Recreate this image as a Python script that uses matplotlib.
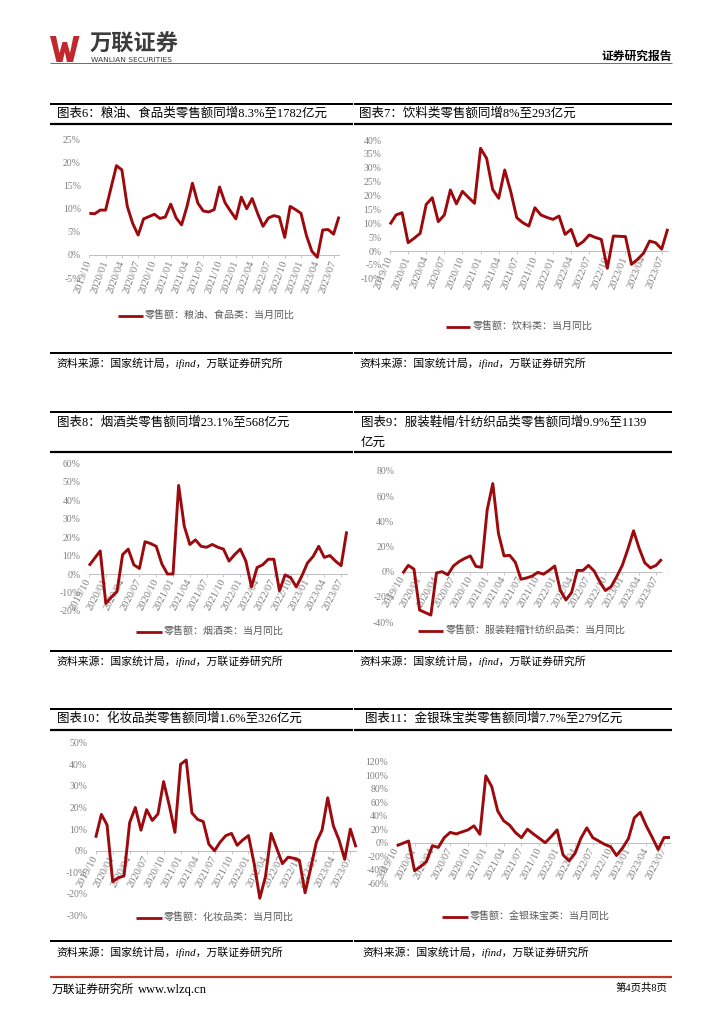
import numpy as np
import matplotlib
matplotlib.use("Agg")
import matplotlib.pyplot as plt
from matplotlib.lines import Line2D
from matplotlib.patches import Polygon

# ---------------- data ----------------
x_tick_labels = ["2019/10", "2020/01", "2020/04", "2020/07", "2020/10", "2021/01",
                 "2021/04", "2021/07", "2021/10", "2022/01", "2022/04", "2022/07",
                 "2022/10", "2023/01", "2023/04", "2023/07"]

grain_food = [9.0, 8.9, 9.7, 9.7, 14.5, 19.3, 18.4, 10.5, 6.8, 4.3, 7.8, 8.3, 8.8, 7.9, 8.2,
              11.0, 8.0, 6.5, 10.5, 15.5, 11.2, 9.5, 9.3, 9.8, 14.7, 11.3, 9.5, 7.8, 12.5,
              10.0, 12.2, 9.0, 6.2, 8.0, 8.5, 8.2, 3.8, 10.5, 9.8, 9.0, 4.2, 0.8, -0.5, 5.4,
              5.5, 4.5, 8.3]

beverage = [9.6, 13.0, 13.8, 3.0, 4.6, 6.4, 16.8, 19.2, 10.6, 13.0, 22.0, 17.0, 21.5, 19.3,
            17.2, 37.0, 33.4, 22.2, 19.0, 29.2, 21.4, 12.0, 10.2, 9.0, 15.6, 13.0, 12.1, 11.4,
            12.6, 6.0, 7.8, 1.9, 3.4, 5.8, 4.9, 4.2, -6.2, 5.4, 5.3, 5.2, -4.8, -3.0, -0.8,
            3.6, 3.0, 0.7, 8.0]

tobacco_liquor = [4.5, 8.5, 12.5, -16.0, -12.5, -9.5, 10.5, 13.5, 5.0, 3.0, 17.5, 16.5, 15.0,
                  5.5, 0.0, 0.0, 48.0, 26.0, 16.0, 18.5, 15.0, 14.5, 16.0, 14.5, 13.5, 7.0,
                  10.5, 13.5, 7.0, -7.0, 3.5, 5.0, 8.0, 8.0, -9.0, -0.5, -2.0, -7.0, -1.0,
                  6.0, 9.5, 15.0, 9.0, 10.0, 7.0, 4.5, 23.1]

apparel = [-1.3, 5.0, 2.0, -30.5, -32.5, -34.5, -1.0, 0.0, -2.5, 4.5, 8.0, 10.5, 12.5, 4.2,
           3.5, 49.0, 70.0, 30.5, 12.5, 13.0, 7.5, -6.0, -5.0, -3.5, -0.5, -2.0, 1.0, 4.5,
           -15.0, -22.5, -16.5, 1.0, 1.0, 5.0, 0.5, -8.0, -15.0, -12.0, -4.0, 5.0, 18.0,
           32.5, 18.5, 7.0, 3.0, 5.0, 9.9]

cosmetics = [6.0, 16.8, 12.0, -14.3, -12.5, -11.7, 13.0, 20.0, 9.5, 19.0, 14.0, 17.0, 32.0,
             21.0, 8.5, 40.0, 42.0, 17.5, 14.5, 13.5, 3.0, 0.0, 4.0, 7.0, 8.0, 2.5, 5.0, 7.0,
             -6.0, -22.0, -12.0, 8.0, 1.0, -6.0, -3.0, -3.5, -4.5, -19.5, -8.0, 4.0, 9.5,
             24.5, 11.5, 5.0, -4.0, 10.0, 1.6]

jewelry = [-4.5, -1.0, 2.5, -41.5, -35.5, -28.0, -4.5, -7.0, 7.5, 15.3, 13.0, 16.0, 19.0,
           25.0, 12.5, 99.0, 83.0, 47.0, 32.5, 26.0, 15.0, 7.5, 20.0, 13.0, 6.5, 0.0, 9.0,
           19.0, -18.0, -27.0, -16.0, 6.5, 22.0, 7.5, 2.5, -2.5, -6.0, -19.0, -8.0, 6.0,
           37.0, 45.0, 25.0, 8.0, -10.0, 7.7, 7.7]

titles = ["图表6：粮油、食品类零售额同增8.3%至1782亿元",
          "图表7：饮料类零售额同增8%至293亿元",
          "图表8：烟酒类零售额同增23.1%至568亿元",
          "图表9：服装鞋帽/针纺织品类零售额同增9.9%至1139",
          "图表10：化妆品类零售额同增1.6%至326亿元",
          "图表11：金银珠宝类零售额同增7.7%至279亿元"]
title9_tail = "亿元"

legend_labels = ["零售额：粮油、食品类：当月同比",
                 "零售额：饮料类：当月同比",
                 "零售额：烟酒类：当月同比",
                 "零售额：服装鞋帽针纺织品类：当月同比",
                 "零售额：化妆品类：当月同比",
                 "零售额：金银珠宝类：当月同比"]

source_text = "资料来源：国家统计局，ifind，万联证券研究所"

# ---------------- style ----------------
W, H = 724, 1024
CJK = ["Liberation Serif", "Noto Sans CJK SC"]
SANS_CJK = ["Noto Sans CJK SC", "DejaVu Sans"]
RED = "#9C0A0E"
GRAY = "#808080"

fig = plt.figure(figsize=(7.24, 10.24), dpi=100)
fig.patch.set_facecolor("white")


def fx(px):
    return px / W


def fy(py):
    return 1 - py / H


def hline(x0, x1, y, lw_px, color="black"):
    fig.add_artist(Line2D([fx(x0), fx(x1)], [fy(y), fy(y)], lw=lw_px * 0.72,
                          color=color, transform=fig.transFigure,
                          solid_capstyle="butt"))


def chart(values, x0, x1, y_top, y_bot, ylim, ystep, rot):
    ax = fig.add_axes([fx(x0), fy(y_bot), (x1 - x0) / W, (y_bot - y_top) / H])
    ax.patch.set_alpha(0)
    for s in ["left", "right", "top"]:
        ax.spines[s].set_visible(False)
    ax.spines["bottom"].set_position(("data", 0))
    ax.spines["bottom"].set_color("#BFBFBF")
    ax.spines["bottom"].set_linewidth(0.7)
    n = len(values)
    xs = np.arange(n)
    ax.plot(xs, values, color=RED, lw=2.1, clip_on=False,
            solid_joinstyle="round", solid_capstyle="butt", zorder=3)
    ax.set_xlim(0, n - 1)
    ax.set_ylim(*ylim)
    ax.tick_params(axis="y", length=0, pad=6, labelsize=7, labelcolor=GRAY)
    ax.tick_params(axis="x", length=2.5, width=0.6, color="#BFBFBF", direction="out",
                   pad=1.5, labelsize=7.6, labelcolor=GRAY)
    yt = np.arange(ylim[0], ylim[1] + 0.01, ystep)
    ax.set_yticks(yt)
    ax.set_yticklabels([f"{int(v)}%" for v in yt], fontfamily="Liberation Serif")
    ax.set_xticks(np.arange(0, n, 3))
    ax.set_xticklabels(x_tick_labels, rotation=rot, ha="right", va="center",
                       rotation_mode="anchor", fontfamily="Liberation Serif")
    return ax


def legend(lx0, lx1, tx, y, label):
    fig.add_artist(Line2D([fx(lx0), fx(lx1)], [fy(y), fy(y)], color=RED, lw=2.0,
                          transform=fig.transFigure, solid_capstyle="butt"))
    fig.text(fx(tx), fy(y), label, fontsize=7.2, color="#595959", family=SANS_CJK,
             va="center", ha="left")


# ---------------- header ----------------
logo = [(50, 36), (56, 36), (59.5, 53), (62.5, 42), (67, 42), (70, 53), (73.5, 36),
        (79.5, 36), (73, 62), (67, 62), (64.8, 52), (62.5, 62), (56.5, 62)]
fig.add_artist(Polygon([(fx(a), fy(b)) for a, b in logo], closed=True,
                       facecolor="#C0282D", edgecolor="none",
                       transform=fig.transFigure))
fig.text(fx(90), fy(44.5), "万联证券", fontsize=16, fontweight="bold", color="#3C3C3C",
         family=SANS_CJK, va="center", ha="left")
fig.text(fx(91), fy(59.5), "WANLIAN SECURITIES", fontsize=5.4, color="#3C3C3C",
         family="DejaVu Sans", va="center", ha="left")
fig.text(fx(672), fy(56), "证券研究报告", fontsize=8.5, fontweight="bold", color="black",
         family=SANS_CJK, va="center", ha="right")
hline(50, 672, 63, 1.0, "#C0504D")

# ---------------- panel frames ----------------
LX0, LX1, RX0, RX1 = 50, 353, 354, 672
rows = [(103.5, 123.5, 353), (411.7, 451.7, 650.7), (709, 729.5, 941)]
for top, under, src in rows:
    for a, b in [(LX0, LX1), (RX0, RX1)]:
        hline(a, b, top, 2.0)
        hline(a, b, under, 2.2)
        hline(a, b, src, 2.0)

# titles
fig.text(fx(57), fy(114), titles[0], fontsize=9, family=CJK, va="center", ha="left")
fig.text(fx(359), fy(114), titles[1], fontsize=9, family=CJK, va="center", ha="left")
fig.text(fx(57), fy(423), titles[2], fontsize=9, family=CJK, va="center", ha="left")
fig.text(fx(361), fy(423), titles[3], fontsize=9, family=CJK, va="center", ha="left")
fig.text(fx(361), fy(443), title9_tail, fontsize=9, family=CJK, va="center", ha="left")
fig.text(fx(57), fy(718.5), titles[4], fontsize=9, family=CJK, va="center", ha="left")
fig.text(fx(365), fy(718.5), titles[5], fontsize=9, family=CJK, va="center", ha="left")

# sources
for x, y in [(56, 363), (359, 363), (56, 661), (359, 661), (56, 952), (362, 952)]:
    fig.text(fx(x), fy(y), source_text, fontsize=7.8, style="italic", family=CJK,
             va="center", ha="left", color="black")

# ---------------- charts ----------------
chart(grain_food, 89.3, 339.0, 139.3, 278.1, (-5, 25), 5, 70)
chart(beverage, 390.0, 667.7, 140.0, 278.8, (-10, 40), 5, 68)
chart(tobacco_liquor, 89.0, 346.7, 463.3, 610.9, (-20, 60), 10, 62)
chart(apparel, 402.7, 661.7, 471.0, 622.0, (-40, 80), 20, 60)
chart(cosmetics, 95.7, 356.0, 742.7, 915.5, (-30, 50), 10, 62)
chart(jewelry, 396.7, 670.0, 761.7, 883.2, (-60, 120), 20, 62)

legend(118, 143, 145, 316, legend_labels[0])
legend(446, 470, 473, 327, legend_labels[1])
legend(136, 161.5, 164, 632, legend_labels[2])
legend(418, 443, 446, 631, legend_labels[3])
legend(136, 161.5, 164, 918, legend_labels[4])
legend(442, 467.5, 470, 916.5, legend_labels[5])

# ---------------- footer ----------------
hline(50, 672, 977, 2.2, "#C0392B")
fig.text(fx(52), fy(990), "万联证券研究所", fontsize=8.5, family=CJK, va="center", ha="left")
fig.text(fx(138), fy(990), "www.wlzq.cn", fontsize=9, family="Liberation Serif",
         va="center", ha="left")
fig.text(fx(667), fy(988), "第4页共8页", fontsize=7.5, family=CJK, va="center", ha="right")

fig.savefig("out.png", dpi=100, facecolor="white")
